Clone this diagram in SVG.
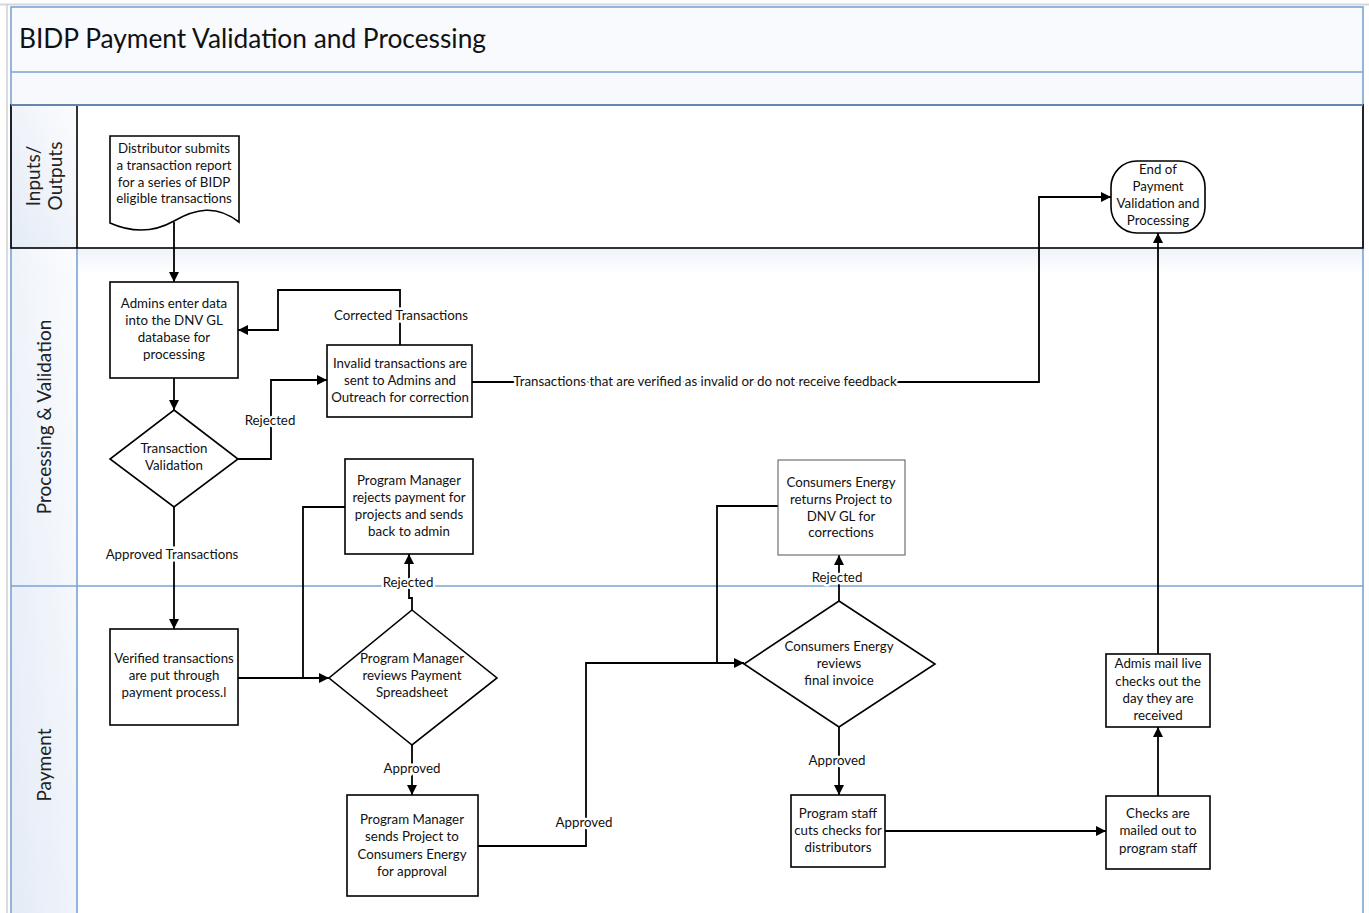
<svg xmlns="http://www.w3.org/2000/svg" width="1369" height="913" viewBox="0 0 1369 913">
<defs>
<linearGradient id="hdr" x1="0" y1="1" x2="1" y2="0">
<stop offset="0" stop-color="#e4ebf6"/>
<stop offset="1" stop-color="#fbfcfe"/>
</linearGradient>
<linearGradient id="laneTop" x1="0" y1="0" x2="0" y2="1">
<stop offset="0" stop-color="#eef3fa"/>
<stop offset="0.04" stop-color="#ffffff"/>
<stop offset="1" stop-color="#ffffff"/>
</linearGradient>
<marker id="ah" viewBox="0 0 10 10" refX="10" refY="5" markerWidth="10" markerHeight="10" markerUnits="userSpaceOnUse" orient="auto">
<path d="M0,0 L10,5 L0,10 Z" fill="#000"/>
</marker>
<style>
.t{font-family:Lato,"Open Sans","Liberation Sans",sans-serif;font-size:13.3px;text-anchor:middle;fill:#111}
.lbl{font-family:Lato,"Open Sans","Liberation Sans",sans-serif;font-size:13.3px;text-anchor:middle;fill:#111;stroke:#fff;stroke-width:5px;paint-order:stroke}
.lane{font-family:Lato,"Open Sans","Liberation Sans",sans-serif;font-size:19px;text-anchor:middle;fill:#222}
.box{fill:#fff;stroke:#000;stroke-width:1.6}
.gbox{fill:#fff;stroke:#555;stroke-width:1}
.c{fill:none;stroke:#000;stroke-width:1.8}
.blue{fill:none;stroke:#7aa3d4;stroke-width:1.6}
</style>
</defs>
<rect x="0" y="0" width="1369" height="913" fill="#fff"/>
<line x1="0" y1="4.5" x2="1369" y2="4.5" stroke="#d8d8d8" stroke-width="2"/>
<line x1="7" y1="4" x2="7" y2="913" stroke="#d0d0d0" stroke-width="1.5"/>

<g id="frame">
<rect x="11" y="7" width="1352" height="65" fill="#f8fafd"/>
<rect x="11" y="72" width="1352" height="33" fill="#f7f9fc"/>
<rect x="11" y="248" width="1352" height="670" fill="url(#laneTop)"/>
<rect x="11" y="248" width="66" height="670" fill="url(#hdr)"/>
<rect x="11" y="105" width="66" height="143" fill="url(#hdr)"/>
<line x1="11" y1="586" x2="1363" y2="586" class="blue"/>
<line x1="77" y1="248" x2="77" y2="913" class="blue"/>
<rect x="11" y="7" width="1352" height="920" class="blue"/>
<line x1="11" y1="72" x2="1363" y2="72" class="blue"/>
<rect x="11" y="105" width="1352" height="143" fill="none" stroke="#000" stroke-width="1.6"/>
<line x1="77" y1="105" x2="77" y2="248" stroke="#000" stroke-width="1.6"/>
<line x1="11" y1="105" x2="1363" y2="105" class="blue"/>
<text x="19" y="48" font-family="Lato,'Open Sans','Liberation Sans',sans-serif" font-size="26.3" fill="#111">BIDP Payment Validation and Processing</text>
<text class="lane" transform="translate(44,176) rotate(-90)"><tspan x="0" y="-4">Inputs/</tspan><tspan x="0" y="18">Outputs</tspan></text>
<text class="lane" transform="translate(51,417) rotate(-90)">Processing &amp; Validation</text>
<text class="lane" transform="translate(51,765) rotate(-90)">Payment</text>
</g>

<g id="connectors">
<path class="c" d="M174,222 V282" marker-end="url(#ah)"/>
<path class="c" d="M174,378 V410" marker-end="url(#ah)"/>
<path class="c" d="M238,459 H271 V380 H327" marker-end="url(#ah)"/>
<path class="c" d="M400,345 V290 H278 V330 H238" marker-end="url(#ah)"/>
<path class="c" d="M472,382 H1039 V197 H1111" marker-end="url(#ah)"/>
<path class="c" d="M174,507 V629" marker-end="url(#ah)"/>
<path class="c" d="M238,678 H329" marker-end="url(#ah)"/>
<path class="c" d="M345,507 H303 V678"/>
<path class="c" d="M412,610 V598 H409 V554" marker-end="url(#ah)"/>
<path class="c" d="M412,745 V795" marker-end="url(#ah)"/>
<path class="c" d="M478,846 H586 V663 H744" marker-end="url(#ah)"/>
<path class="c" d="M778,506 H717 V663"/>
<path class="c" d="M839,601 V555" marker-end="url(#ah)"/>
<path class="c" d="M839,727 V795" marker-end="url(#ah)"/>
<path class="c" d="M885,831 H1106" marker-end="url(#ah)"/>
<path class="c" d="M1158,796 V727" marker-end="url(#ah)"/>
<path class="c" d="M1158,654 V233" marker-end="url(#ah)"/>
<text class="lbl" x="270" y="425">Rejected</text>
<text class="lbl" x="401" y="320">Corrected Transactions</text>
<text class="lbl" x="705" y="386">Transactions that are verified as invalid or do not receive feedback</text>
<text class="lbl" x="172" y="559">Approved Transactions</text>
<text class="lbl" x="408" y="587">Rejected</text>
<text class="lbl" x="412" y="773">Approved</text>
<text class="lbl" x="584" y="827">Approved</text>
<text class="lbl" x="837" y="582">Rejected</text>
<text class="lbl" x="837" y="765">Approved</text>
</g>

<g id="n_distributor">
<path class="box" d="M110,136 H239 V222 C216,204 195,209 174,221 C151,234 128,231 110,223 Z"/>
<text class="t" x="174" y="153">Distributor submits</text>
<text class="t" x="174" y="170">a transaction report</text>
<text class="t" x="174" y="187">for a series of BIDP</text>
<text class="t" x="174" y="203">eligible transactions</text>
</g>
<g id="n_admins">
<rect class="box" x="110" y="282" width="128" height="96"/>
<text class="t" x="174" y="308">Admins enter data</text>
<text class="t" x="174" y="325">into the DNV GL</text>
<text class="t" x="174" y="342">database for</text>
<text class="t" x="174" y="359">processing</text>
</g>
<g id="n_invalid">
<rect class="box" x="327" y="345" width="145" height="72"/>
<text class="t" x="400" y="368">Invalid transactions are</text>
<text class="t" x="400" y="385">sent to Admins and</text>
<text class="t" x="400" y="402">Outreach for correction</text>
</g>
<g id="n_validation">
<path class="box" d="M174,410 L238,459 L174,507 L110,459 Z"/>
<text class="t" x="174" y="453">Transaction</text>
<text class="t" x="174" y="470">Validation</text>
</g>
<g id="n_pmrejects">
<rect class="box" x="345" y="459" width="128" height="95"/>
<text class="t" x="409" y="485">Program Manager</text>
<text class="t" x="409" y="502">rejects payment for</text>
<text class="t" x="409" y="519">projects and sends</text>
<text class="t" x="409" y="536">back to admin</text>
</g>
<g id="n_verified">
<rect class="box" x="110" y="629" width="128" height="96"/>
<text class="t" x="174" y="663">Verified transactions</text>
<text class="t" x="174" y="680">are put through</text>
<text class="t" x="174" y="697">payment process.l</text>
</g>
<g id="n_pmreview">
<path class="box" d="M412,610 L497,678 L412,745 L329,678 Z"/>
<text class="t" x="412" y="663">Program Manager</text>
<text class="t" x="412" y="680">reviews Payment</text>
<text class="t" x="412" y="697">Spreadsheet</text>
</g>
<g id="n_pmsends">
<rect class="box" x="347" y="795" width="131" height="101"/>
<text class="t" x="412" y="824">Program Manager</text>
<text class="t" x="412" y="841">sends Project to</text>
<text class="t" x="412" y="859">Consumers Energy</text>
<text class="t" x="412" y="876">for approval</text>
</g>
<g id="n_cereturns">
<rect class="gbox" x="778" y="460" width="127" height="95"/>
<text class="t" x="841" y="487" fill="#1a1a33">Consumers Energy</text>
<text class="t" x="841" y="504">returns Project to</text>
<text class="t" x="841" y="521">DNV GL for</text>
<text class="t" x="841" y="537">corrections</text>
</g>
<g id="n_cereview">
<path class="box" d="M839,601 L935,664 L839,727 L744,664 Z"/>
<text class="t" x="839" y="651">Consumers Energy</text>
<text class="t" x="839" y="668">reviews</text>
<text class="t" x="839" y="685">final invoice</text>
</g>
<g id="n_staff">
<rect class="box" x="791" y="795" width="94" height="72"/>
<text class="t" x="838" y="818">Program staff</text>
<text class="t" x="838" y="835">cuts checks for</text>
<text class="t" x="838" y="852">distributors</text>
</g>
<g id="n_mailed">
<rect class="box" x="1106" y="796" width="104" height="73"/>
<text class="t" x="1158" y="818">Checks are</text>
<text class="t" x="1158" y="835">mailed out to</text>
<text class="t" x="1158" y="853">program staff</text>
</g>
<g id="n_admis">
<rect class="box" x="1106" y="654" width="104" height="73"/>
<text class="t" x="1158" y="668">Admis mail live</text>
<text class="t" x="1158" y="686">checks out the</text>
<text class="t" x="1158" y="703">day they are</text>
<text class="t" x="1158" y="720">received</text>
</g>
<g id="n_end">
<rect class="box" x="1111" y="161" width="94" height="72" rx="26" ry="26"/>
<text class="t" x="1158" y="174">End of</text>
<text class="t" x="1158" y="191">Payment</text>
<text class="t" x="1158" y="208">Validation and</text>
<text class="t" x="1158" y="225">Processing</text>
</g>
</svg>
